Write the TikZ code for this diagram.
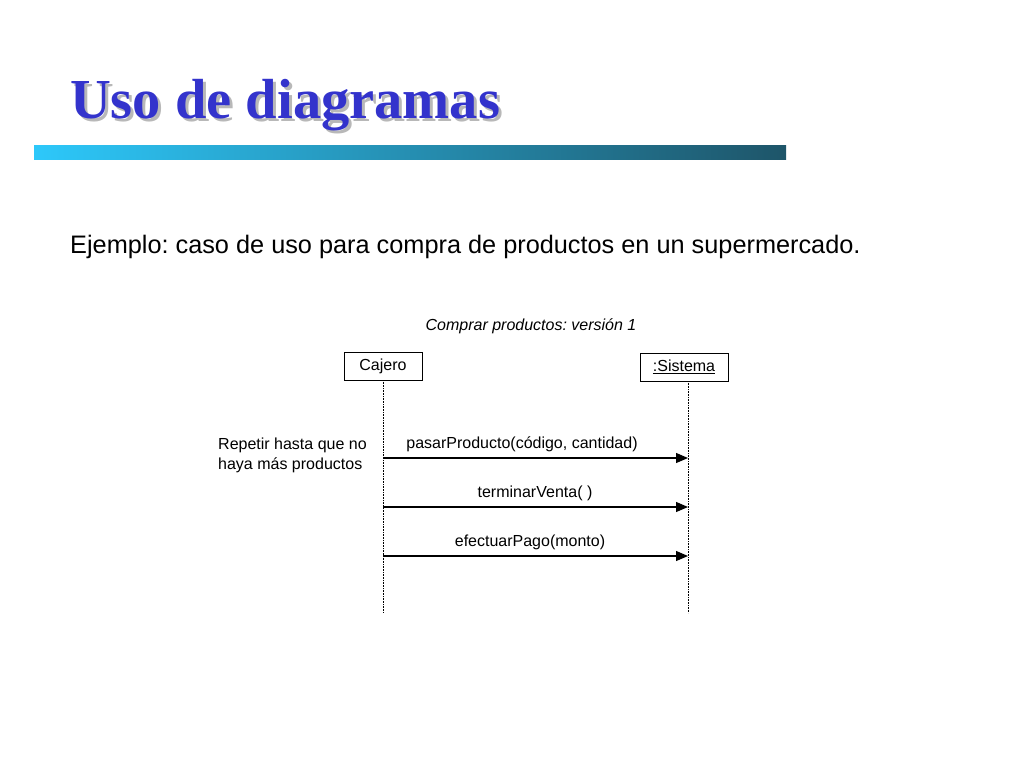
\documentclass[tikz,border=0pt]{standalone}
\usepackage{fontspec}
\setmainfont{Liberation Sans}
\newfontfamily\titlefont{Liberation Serif}
\usetikzlibrary{arrows.meta}
\frenchspacing
\definecolor{titleblue}{RGB}{51,51,204}
\definecolor{barleft}{RGB}{45,200,250}
\definecolor{barright}{RGB}{30,85,105}
\tikzset{
  objbox/.style={draw, line width=1pt, inner sep=0pt, minimum height=28pt, font=\fontsize{16}{16}\selectfont},
  lifeline/.style={densely dotted, line width=0.6pt},
  msg/.style={line width=1.2pt, -{Triangle[length=12pt,width=10pt]}},
  msglabel/.style={font=\fontsize{16}{16}\selectfont, anchor=base},
}
\begin{document}
\begin{tikzpicture}[x=1pt,y=-1pt]
\useasboundingbox (0,0) rectangle (1024,768);
\fill[white] (0,0) rectangle (1024,768);
% title
\node[anchor=base west, inner sep=0pt, text=black!28] at (73,121) {\titlefont\bfseries\fontsize{56.5}{56.5}\selectfont Uso de diagramas};
\node[anchor=base west, inner sep=0pt, text=titleblue] (title) at (70,118) {\titlefont\bfseries\fontsize{56.5}{56.5}\selectfont Uso de diagramas};
% bar
\shade[left color=barleft, right color=barright] (34,145) rectangle (786,159);
% subtitle
\node[anchor=base west, inner sep=0pt] (sub) at (70,253) {\fontsize{25.3}{25.3}\selectfont Ejemplo: caso de uso para compra de productos en un supermercado.};
% diagram title
\node[anchor=base, inner sep=0pt] (dtitle) at (531,330) {\fontsize{16}{16}\selectfont\itshape Comprar productos: versión 1};
% objects
\node[objbox, minimum width=78pt] (caj) at (383,366) {Cajero};
\node[objbox, minimum width=88pt] (sis) at (684,367) {\underline{:Sistema}};
\coordinate (cajend) at (383,613);
\coordinate (sisend) at (688,613);
\draw[lifeline] (383,380) -- (cajend);
\draw[lifeline] (688,381) -- (sisend);
% messages
\coordinate (a1) at (383,458); \coordinate (b1) at (688,458);
\coordinate (a2) at (383,507); \coordinate (b2) at (688,507);
\coordinate (a3) at (383,556); \coordinate (b3) at (688,556);
\draw[msg] (a1) -- (b1);
\draw[msg] (a2) -- (b2);
\draw[msg] (a3) -- (b3);
\node[msglabel] (l1) at (522,448) {pasarProducto(código, cantidad)};
\node[msglabel] (l2) at (535,497) {terminarVenta( )};
\node[msglabel] (l3) at (530,546) {efectuarPago(monto)};
% note
\node[anchor=north west, align=left, inner sep=0pt, font=\fontsize{16}{20}\selectfont] (note) at (218,438) {Repetir hasta que no\\haya más productos};
\end{tikzpicture}
\end{document}
